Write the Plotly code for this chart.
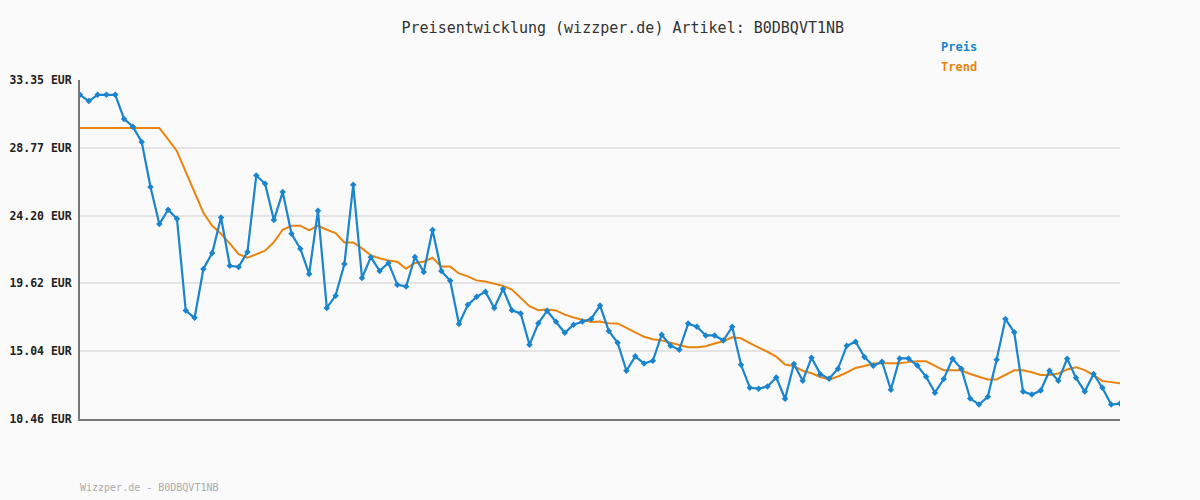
import plotly.graph_objects as go

title_text = "Preisentwicklung (wizzper.de) Artikel: B0DBQVT1NB"
footer_text = "Wizzper.de - B0DBQVT1NB"

preis = [32.35, 31.93, 32.35, 32.35, 32.35, 30.72, 30.20, 29.17, 26.12, 23.62,
         24.59, 23.98, 17.78, 17.29, 20.59, 21.67, 24.07, 20.81, 20.73, 21.74,
         26.90, 26.34, 23.89, 25.78, 22.97, 21.96, 20.25, 24.52, 17.96, 18.79,
         20.93, 26.27, 19.98, 21.39, 20.46, 21.00, 19.53, 19.40, 21.40, 20.39,
         23.22, 20.46, 19.79, 16.88, 18.17, 18.71, 19.06, 17.96, 19.24, 17.80,
         17.59, 15.47, 16.92, 17.77, 17.03, 16.28, 16.82, 17.04, 17.22, 18.12,
         16.41, 15.61, 13.72, 14.69, 14.21, 14.40, 16.15, 15.41, 15.13, 16.90,
         16.69, 16.10, 16.10, 15.76, 16.69, 14.12, 12.57, 12.51, 12.66, 13.26,
         11.83, 14.17, 13.04, 14.60, 13.49, 13.18, 13.85, 15.40, 15.68, 14.65,
         14.05, 14.33, 12.44, 14.55, 14.55, 14.07, 13.31, 12.24, 13.16, 14.53,
         13.85, 11.84, 11.44, 11.96, 14.46, 17.22, 16.31, 12.31, 12.11, 12.38,
         13.72, 13.04, 14.53, 13.25, 12.31, 13.50, 12.57, 11.44, 11.50]

trend = [30.11, 30.11, 30.11, 30.11, 30.11, 30.11, 30.11, 30.11, 30.11, 30.11,
         29.34, 28.54, 27.15, 25.73, 24.39, 23.51, 22.97, 22.30, 21.59, 21.35,
         21.59, 21.82, 22.40, 23.24, 23.51, 23.51, 23.19, 23.51, 23.24, 23.02,
         22.38, 22.38, 21.98, 21.51, 21.31, 21.16, 21.08, 20.61, 21.00, 21.08,
         21.35, 20.75, 20.75, 20.29, 20.09, 19.82, 19.74, 19.62, 19.45, 19.20,
         18.64, 18.08, 17.81, 17.86, 17.79, 17.51, 17.31, 17.16, 17.01, 17.05,
         16.92, 16.91, 16.62, 16.30, 16.01, 15.84, 15.77, 15.61, 15.44, 15.31,
         15.31, 15.37, 15.56, 15.71, 15.98, 15.91, 15.58, 15.30, 15.00, 14.67,
         14.14, 14.03, 13.72, 13.55, 13.30, 13.13, 13.33, 13.60, 13.91, 14.04,
         14.21, 14.22, 14.22, 14.22, 14.30, 14.36, 14.36, 14.03, 13.75, 13.75,
         13.75, 13.50, 13.33, 13.13, 13.13, 13.43, 13.75, 13.75, 13.62, 13.43,
         13.43, 13.53, 13.80, 13.96, 13.76, 13.43, 13.03, 12.95, 12.88]

x_index = list(range(len(preis)))

y_ticks = [10.46, 15.04, 19.62, 24.20, 28.77, 33.35]
y_tick_labels = ["10.46 EUR", "15.04 EUR", "19.62 EUR", "24.20 EUR", "28.77 EUR", "33.35 EUR"]

BLUE = "#1a84cc"
ORANGE = "#e8840f"
MONO = "DejaVu Sans Mono"

fig = go.Figure()
fig.add_trace(go.Scatter(
    x=x_index, y=trend, mode="lines", name="Trend",
    line=dict(color=ORANGE, width=2), hoverinfo="y"))
fig.add_trace(go.Scatter(
    x=x_index, y=preis, mode="lines+markers", name="Preis",
    line=dict(color=BLUE, width=2.2),
    marker=dict(symbol="diamond", size=5, color=BLUE), hoverinfo="y"))

fig.update_layout(
    width=1200, height=500,
    paper_bgcolor="#fafafa", plot_bgcolor="#fafafa",
    margin=dict(l=80, r=80, t=80, b=81),
    showlegend=False,
    title=dict(text=title_text, x=0.519, xanchor="center", y=0.944, yanchor="middle",
               font=dict(family=MONO, size=15, color="#333333")),
    xaxis=dict(range=[0, len(preis) - 1], showgrid=False, zeroline=False,
               showticklabels=False, ticks="", showline=True, automargin=False,
               linecolor="#777777", linewidth=2),
    yaxis=dict(range=[y_ticks[0], y_ticks[-1]], tickvals=y_ticks, ticktext=y_tick_labels,
               showgrid=True, gridcolor="#e4e4e4", gridwidth=2, zeroline=False,
               showline=True, linecolor="#777777", linewidth=2, automargin=False,
               ticks="", ticklabelstandoff=4,
               tickfont=dict(family=MONO, size=11.5, color="#222222", weight="bold")),
    font=dict(family=MONO),
)

fig.add_annotation(text="Preis", xref="paper", yref="paper", x=(939 - 80) / 1040, y=(419 - 47) / 339,
                   xanchor="left", yanchor="middle", showarrow=False,
                   font=dict(family=MONO, size=12, color=BLUE, weight="bold"))
fig.add_annotation(text="Trend", xref="paper", yref="paper", x=(939 - 80) / 1040, y=(419 - 67) / 339,
                   xanchor="left", yanchor="middle", showarrow=False,
                   font=dict(family=MONO, size=12, color=ORANGE, weight="bold"))
fig.add_annotation(text=footer_text, xref="paper", yref="paper", x=-0.002, y=(419 - 487) / 339,
                   xanchor="left", yanchor="middle", showarrow=False,
                   font=dict(family=MONO, size=10, color="#aaaaaa"))

fig.write_html("out.html", config={"displayModeBar": False},
               post_script="document.body.style.margin='0';")
